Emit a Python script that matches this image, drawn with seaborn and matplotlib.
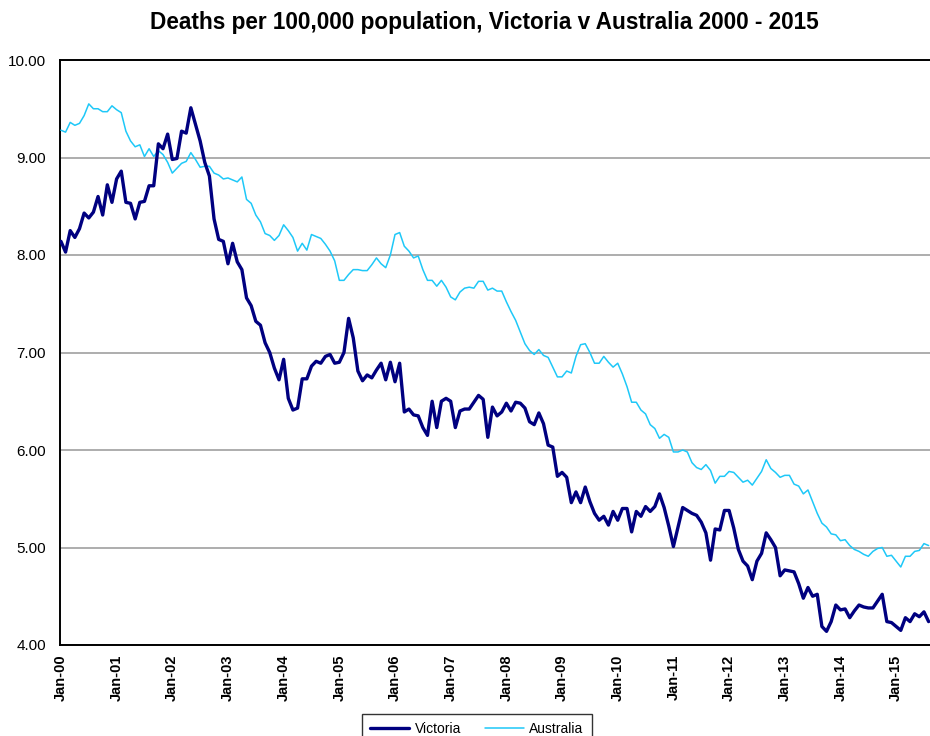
import numpy as np
import pandas as pd
import matplotlib
matplotlib.use("Agg")
import matplotlib.pyplot as plt
from matplotlib.lines import Line2D
import seaborn as sns

# Monthly deaths per 100,000 population, Jan-2000 .. Aug-2015
victoria = [
    8.14, 8.03, 8.25, 8.18, 8.27, 8.43, 8.38, 8.44, 8.60, 8.41, 8.72, 8.54,
    8.78, 8.86, 8.54, 8.53, 8.37, 8.54, 8.55, 8.71, 8.71, 9.14, 9.09, 9.24,
    8.98, 8.99, 9.27, 9.25, 9.51, 9.34, 9.17, 8.95, 8.81, 8.37, 8.16, 8.14,
    7.91, 8.12, 7.93, 7.85, 7.56, 7.48, 7.32, 7.28, 7.10, 7.00, 6.84, 6.72,
    6.93, 6.53, 6.41, 6.43, 6.73, 6.73, 6.86, 6.91, 6.89, 6.96, 6.98, 6.89,
    6.90, 7.00, 7.35, 7.15, 6.81, 6.71, 6.77, 6.74, 6.82, 6.89, 6.72, 6.90,
    6.70, 6.89, 6.39, 6.42, 6.36, 6.35, 6.23, 6.15, 6.50, 6.23, 6.50, 6.53,
    6.50, 6.23, 6.40, 6.42, 6.42, 6.49, 6.56, 6.52, 6.13, 6.44, 6.35, 6.39,
    6.48, 6.40, 6.49, 6.48, 6.43, 6.29, 6.26, 6.38, 6.27, 6.05, 6.03, 5.73,
    5.77, 5.72, 5.46, 5.57, 5.46, 5.62, 5.47, 5.35, 5.28, 5.32, 5.23, 5.37,
    5.28, 5.40, 5.40, 5.16, 5.37, 5.32, 5.42, 5.37, 5.42, 5.55, 5.41, 5.22,
    5.01, 5.21, 5.41, 5.38, 5.35, 5.33, 5.26, 5.15, 4.87, 5.19, 5.18, 5.38,
    5.38, 5.20, 4.98, 4.86, 4.81, 4.67, 4.86, 4.94, 5.15, 5.08, 5.00, 4.71,
    4.77, 4.76, 4.75, 4.63, 4.48, 4.59, 4.50, 4.52, 4.19, 4.14, 4.24, 4.41,
    4.36, 4.37, 4.28, 4.35, 4.41, 4.39, 4.38, 4.38, 4.45, 4.52, 4.24, 4.23,
    4.19, 4.15, 4.28, 4.24, 4.32, 4.29, 4.34, 4.24,
]
australia = [
    9.28, 9.26, 9.36, 9.33, 9.35, 9.43, 9.55, 9.50, 9.50, 9.47, 9.47, 9.53,
    9.49, 9.46, 9.27, 9.17, 9.11, 9.13, 9.01, 9.09, 9.01, 9.07, 9.03, 8.95,
    8.84, 8.89, 8.94, 8.96, 9.05, 8.98, 8.90, 8.91, 8.91, 8.84, 8.82, 8.78,
    8.79, 8.77, 8.75, 8.80, 8.57, 8.53, 8.41, 8.34, 8.22, 8.20, 8.15, 8.20,
    8.31, 8.25, 8.18, 8.04, 8.12, 8.05, 8.21, 8.19, 8.17, 8.11, 8.04, 7.94,
    7.74, 7.74, 7.80, 7.85, 7.85, 7.84, 7.84, 7.90, 7.97, 7.91, 7.87, 8.00,
    8.21, 8.23, 8.09, 8.04, 7.97, 7.99, 7.85, 7.74, 7.74, 7.68, 7.74, 7.67,
    7.57, 7.54, 7.62, 7.66, 7.67, 7.66, 7.73, 7.73, 7.64, 7.66, 7.63, 7.63,
    7.52, 7.42, 7.33, 7.21, 7.09, 7.02, 6.98, 7.03, 6.97, 6.95, 6.85, 6.75,
    6.75, 6.81, 6.79, 6.96, 7.08, 7.09, 7.00, 6.89, 6.89, 6.96, 6.90, 6.85,
    6.89, 6.78, 6.65, 6.49, 6.49, 6.41, 6.37, 6.26, 6.22, 6.12, 6.16, 6.13,
    5.98, 5.98, 6.00, 5.98, 5.87, 5.82, 5.80, 5.85, 5.79, 5.66, 5.73, 5.73,
    5.78, 5.77, 5.72, 5.67, 5.69, 5.64, 5.71, 5.78, 5.90, 5.81, 5.77, 5.72,
    5.74, 5.74, 5.65, 5.63, 5.55, 5.59, 5.47, 5.35, 5.25, 5.21, 5.14, 5.13,
    5.07, 5.08, 5.02, 4.98, 4.96, 4.93, 4.91, 4.96, 4.99, 5.00, 4.91, 4.92,
    4.86, 4.80, 4.91, 4.91, 4.96, 4.97, 5.04, 5.02,
]
tick_labels = ["Jan-00", "Jan-01", "Jan-02", "Jan-03", "Jan-04", "Jan-05",
               "Jan-06", "Jan-07", "Jan-08", "Jan-09", "Jan-10", "Jan-11",
               "Jan-12", "Jan-13", "Jan-14", "Jan-15"]
y_ticks = [4, 5, 6, 7, 8, 9, 10]
title = "Deaths per 100,000 population, Victoria v Australia 2000 - 2015"

sns.set_style("white")
plt.rcParams["font.family"] = ["Liberation Sans", "DejaVu Sans"]
plt.rcParams["text.color"] = "black"
plt.rcParams["xtick.color"] = "black"
plt.rcParams["ytick.color"] = "black"

df = pd.DataFrame({"month": np.arange(len(victoria)),
                   "Victoria": victoria, "Australia": australia})

VIC_C = "#000080"
AUS_C = "#1EC8F8"

fig = plt.figure(figsize=(9.3, 7.36), dpi=100)
ax = fig.add_axes([60 / 930, 1 - 645 / 736, 870 / 930, 585 / 736])

sns.lineplot(data=df, x="month", y="Australia", ax=ax, color=AUS_C,
             linewidth=1.1, zorder=3)
sns.lineplot(data=df, x="month", y="Victoria", ax=ax, color=VIC_C,
             linewidth=2.4, zorder=4)

ax.set_xlim(-0.2, 187.3)
ax.set_ylim(4, 10)
ax.set_xlabel("")
ax.set_ylabel("")

ax.set_xticks([12 * i for i in range(len(tick_labels))])
ax.set_xticklabels(tick_labels, rotation=90, fontweight="bold", fontsize=10.5,
                   color="black")
ax.set_yticks(y_ticks)
ax.set_yticklabels([f"{v:.2f}" for v in y_ticks], fontsize=11, color="black")
ax.tick_params(axis="x", length=0, pad=7)
ax.tick_params(axis="y", length=0, pad=10)

ax.yaxis.grid(True, color="#a0a0a0", linewidth=1.2)
ax.xaxis.grid(False)
ax.set_axisbelow(True)

for side in ["left", "bottom", "top"]:
    ax.spines[side].set_visible(True)
    ax.spines[side].set_color("black")
    ax.spines[side].set_linewidth(1.4)
ax.spines["right"].set_visible(False)

fig.text(484 / 930, 1 - 23 / 736, title, ha="center", va="center",
         fontsize=16.3, fontweight="bold", color="black")

handles = [Line2D([], [], color=VIC_C, linewidth=2.4),
           Line2D([], [], color=AUS_C, linewidth=1.1)]
leg = fig.legend(handles, ["Victoria", "Australia"], loc="upper left",
                 bbox_to_anchor=(362 / 930, 1 - 714 / 736), ncol=2,
                 frameon=True, fancybox=False, edgecolor="black",
                 fontsize=10, handlelength=2.8, handletextpad=0.4,
                 columnspacing=1.7, borderpad=0.6, borderaxespad=0)
leg.get_frame().set_linewidth(1.0)
for t in leg.get_texts():
    t.set_color("black")

fig.savefig("out.png", dpi=100)
